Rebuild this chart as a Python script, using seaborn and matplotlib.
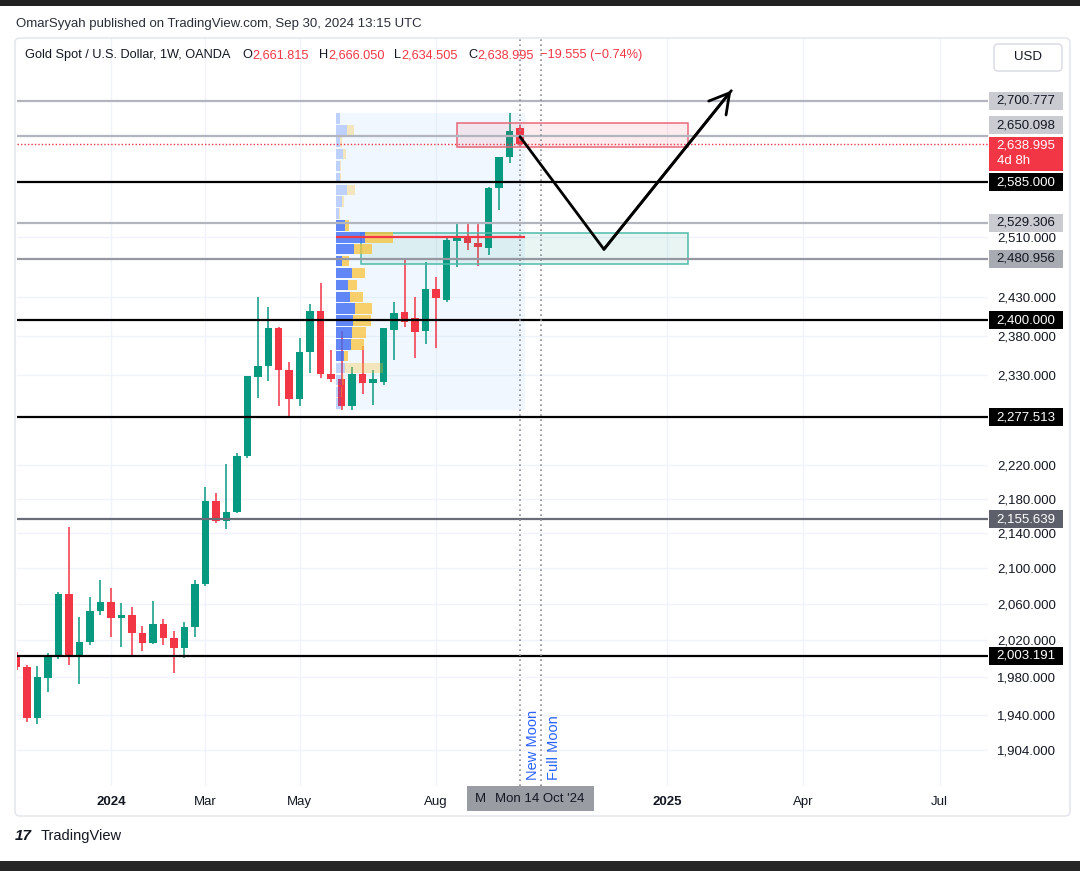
import numpy as np
import pandas as pd
import matplotlib
matplotlib.use("Agg")
import matplotlib.pyplot as plt
import matplotlib.dates as mdates
import matplotlib.transforms as mtrans
from matplotlib.patches import Rectangle, FancyBboxPatch
from matplotlib.ticker import NullLocator
import seaborn as sns

# ---------------- data ----------------
first_week = "2023-10-30"
opens = [2004, 1991, 1937, 1979, 2002, 2071, 2002, 2018, 2052, 2062,
         2044, 2048, 2028, 2017, 2038, 2022, 2011, 2034, 2082, 2177,
         2154, 2164, 2231, 2328, 2341, 2390, 2336, 2300, 2359, 2412,
         2331, 2325, 2292, 2331, 2320, 2321, 2387, 2411, 2403, 2386,
         2441, 2426, 2505, 2510, 2502, 2495, 2577, 2620, 2661.815]
highs = [2007, 1993, 1992, 2006, 2073, 2147, 2045, 2068, 2086, 2077,
         2061, 2056, 2035, 2063, 2043, 2030, 2040, 2086, 2194, 2187,
         2221, 2234, 2329, 2430, 2417, 2391, 2346, 2377, 2421, 2449,
         2362, 2386, 2340, 2367, 2336, 2390, 2424, 2482, 2430, 2476,
         2456, 2510, 2529, 2528, 2527, 2579, 2621, 2684, 2666.050]
lows = [1988, 1933, 1931, 1964, 1999, 1993, 1973, 2015, 2047, 2023,
        2012, 2002, 2008, 2016, 2015, 1984, 2001, 2023, 2080, 2151,
        2145, 2163, 2228, 2301, 2323, 2291, 2278, 2291, 2333, 2326,
        2321, 2287, 2287, 2306, 2293, 2318, 2349, 2391, 2352, 2369,
        2364, 2424, 2470, 2492, 2471, 2486, 2547, 2612, 2634.505]
closes = [1991, 1937, 1980, 2002, 2071, 2002, 2018, 2052, 2062, 2044,
          2048, 2028, 2017, 2038, 2022, 2011, 2034, 2082, 2177, 2154,
          2164, 2231, 2329, 2342, 2390, 2336, 2300, 2359, 2412, 2331,
          2325, 2292, 2331, 2320, 2325, 2390, 2409, 2398, 2385, 2441,
          2429, 2506, 2509, 2502, 2496, 2577, 2620, 2657, 2638.995]

level_prices = [2700.777, 2650.098, 2585.000, 2529.306, 2480.956,
                2400.000, 2277.513, 2155.639, 2003.191]
last_close = 2638.995
countdown = "4d 8h"

ytick_values = [1904, 1940, 1980, 2020, 2060, 2100, 2140, 2180, 2220,
                2330, 2380, 2430, 2510]
xtick_dates = ["2024-01-01", "2024-03-04", "2024-05-06", "2024-08-05",
               "2025-01-06", "2025-04-07", "2025-07-07"]
xtick_labels = ["2024", "Mar", "May", "Aug", "2025", "Apr", "Jul"]

# fixed range volume profile, rows listed from top to bottom
profile_first_bar = 31
profile_up = [3, 10, 3, 6, 3, 3, 10, 5, 2, 8, 27, 17, 5, 15, 11, 13, 18,
              16, 15, 14, 7, 8, 5, 4, 4]
profile_down = [0, 7, 2, 3, 1, 1, 8, 2, 1, 4, 27, 17, 7, 12, 9, 12, 16,
                17, 13, 12, 4, 36, 2, 1, 0]
profile_in_va = [0, 0, 0, 0, 0, 0, 0, 0, 0, 1, 1, 1, 1, 1, 1, 1, 1,
                 1, 1, 1, 1, 0, 0, 0, 0]

red_zone = ["2024-08-19", "2025-01-20", 2634.6, 2669.0]
teal_zone = ["2024-06-16", "2025-01-20", 2473.7, 2515.4]
path_dates = ["2024-09-30", "2024-11-25", "2025-02-18"]
path_prices = [2649.3, 2493.4, 2715.8]
moon_dates = ["2024-09-30", "2024-10-14"]
moon_labels = ["New Moon", "Full Moon"]
crosshair_label = "Mon 14 Oct '24"

title_text = "OmarSyyah published on TradingView.com, Sep 30, 2024 13:15 UTC"
symbol_text = "Gold Spot / U.S. Dollar, 1W, OANDA"
ohlc_letters = ["O", "H", "L", "C"]
ohlc_values = ["2,661.815", "2,666.050", "2,634.505", "2,638.995"]
change_text = "\u221219.555 (\u22120.74%)"

# ---------------- styles ----------------
GREEN, RED = "#089981", "#f23645"
TXT = "#131722"
level_line_colors = ["#b2b5be", "#b2b5be", "#000000", "#b2b5be", "#9598a1",
                     "#000000", "#000000", "#6a6d78", "#000000"]
level_box_colors = ["#c9cbd1", "#c9cbd1", "#000000", "#c9cbd1", "#a8abb2",
                    "#000000", "#000000", "#5d606b", "#000000"]
level_text_colors = [TXT, TXT, "white", TXT, TXT, "white", "white", "white", "white"]
level_label_shift = [0, 11, 0, 0, 0, 0, 0, 0, 0]

sns.set_theme(style="white")
plt.rcParams["font.family"] = ["Liberation Sans", "DejaVu Sans"]

W, H = 1080, 871
fig = plt.figure(figsize=(W / 100, H / 100), dpi=100)
fig.patch.set_facecolor("white")
PL, PR, PT, PB = 17, 988, 38, 786
ax = fig.add_axes([PL / W, 1 - PB / H, (PR - PL) / W, (PB - PT) / H])
ax.set_facecolor("white")
ax.set_yscale("log")
ax.set_ylim(1867.3, 2794.0)

dates = pd.date_range(first_week, periods=len(opens), freq="7D")
xs = mdates.date2num(dates.to_pydatetime())
d0 = xs[0]
ax.set_xlim(d0 + 0.33, d0 + 648.3)

def dnum(s):
    return mdates.date2num(pd.Timestamp(s).to_pydatetime())

# ---------------- candles ----------------
o, h, l, c = map(np.asarray, (opens, highs, lows, closes))
col = np.where(c >= o, GREEN, RED)
ax.vlines(xs, l, h, colors=col, lw=1.1, zorder=2)
bot = np.minimum(o, c)
hgt = np.maximum(np.abs(c - o), 1.2)
ax.bar(xs, hgt, bottom=bot, width=5.0, color=col, linewidth=0, zorder=2.1)

# ---------------- volume profile ----------------
r_left = xs[profile_first_bar] - 3.5
r_right = xs[-1] + 3.5
p_lo = min(lows[profile_first_bar:])
p_hi = max(highs[profile_first_bar:])
ax.add_patch(Rectangle((r_left, p_lo), r_right - r_left, p_hi - p_lo,
                       fc="#bbdefb", alpha=0.22, ec="none", zorder=1))
edges = np.geomspace(p_lo, p_hi, len(profile_up) + 1)
up_v = np.asarray(profile_up[::-1], float)
dn_v = np.asarray(profile_down[::-1], float)
va = np.asarray(profile_in_va[::-1])
scale = 0.30 * (r_right - r_left) / (up_v + dn_v).max()
for j in range(len(up_v)):
    y0, y1 = edges[j], edges[j + 1]
    b = y0 + (y1 - y0) * 0.06
    hh = (y1 - y0) * 0.88
    if va[j]:
        ax.barh(b, up_v[j] * scale, height=hh, left=r_left, align="edge",
                color="#3d6bf5", alpha=0.8, linewidth=0, zorder=3.5)
        ax.barh(b, dn_v[j] * scale, height=hh, left=r_left + up_v[j] * scale,
                align="edge", color="#fbc02d", alpha=0.7, linewidth=0, zorder=3.5)
    else:
        ax.barh(b, up_v[j] * scale, height=hh, left=r_left, align="edge",
                color="#2962ff", alpha=0.25, linewidth=0, zorder=3.5)
        ax.barh(b, dn_v[j] * scale, height=hh, left=r_left + up_v[j] * scale,
                align="edge", color="#fbc02d", alpha=0.3, linewidth=0, zorder=3.5)
poc = int(np.argmax(up_v + dn_v))
poc_y = np.sqrt(edges[poc] * edges[poc + 1])
ax.hlines(poc_y, r_left, r_right, color=RED, lw=1.6, zorder=3.6)

# ---------------- zones ----------------
for z, fc, ec in [(red_zone, "#f23645", "#e9677a"), (teal_zone, "#089981", "#4dbbaa")]:
    x0, x1 = dnum(z[0]), dnum(z[1])
    ax.add_patch(Rectangle((x0, z[2]), x1 - x0, z[3] - z[2], fc=fc, alpha=0.09,
                           ec="none", zorder=3))
    ax.add_patch(Rectangle((x0, z[2]), x1 - x0, z[3] - z[2], fc="none",
                           ec=ec, lw=1.1, zorder=3.05))

# ---------------- horizontal levels ----------------
for p, lc in zip(level_prices, level_line_colors):
    ax.axhline(p, color=lc, lw=1.6, zorder=4)
ax.axhline(last_close, color=RED, lw=1.0, ls=(0, (1, 1.5)), zorder=4)

# ---------------- moon lines ----------------
blend = mtrans.blended_transform_factory(ax.transData, ax.transAxes)
for md, lab in zip(moon_dates, moon_labels):
    ax.axvline(dnum(md), color="#8a8e99", lw=1.2, ls=(0, (1, 2)), zorder=4)
    ax.annotate(lab, xy=(dnum(md), 0.008), xycoords=blend, xytext=(9.5, 0),
                textcoords="offset points", rotation=90, ha="center",
                va="bottom", color="#2962ff", fontsize=10.5, zorder=6)

# ---------------- projection path ----------------
path_df = pd.DataFrame({"x": [dnum(s) for s in path_dates], "y": path_prices})
sns.lineplot(data=path_df, x="x", y="y", ax=ax, color="black", lw=2.0,
             sort=False, estimator=None, zorder=5)
ax.annotate("", xy=(path_df.x.iloc[-1], path_df.y.iloc[-1]),
            xytext=(path_df.x.iloc[-2], path_df.y.iloc[-2]),
            arrowprops=dict(arrowstyle="->,head_length=0.7,head_width=0.4",
                            color="black", lw=2.0, mutation_scale=20,
                            shrinkA=0, shrinkB=0), zorder=5)
ax.set_xlabel("")
ax.set_ylabel("")

# ---------------- axes / ticks ----------------
ax.yaxis.tick_right()
ax.set_yticks(ytick_values)
ax.set_yticklabels([f"{v:,.3f}" for v in ytick_values])
ax.yaxis.set_minor_locator(NullLocator())
ax.set_xticks([dnum(s) for s in xtick_dates])
ax.set_xticklabels(xtick_labels)
ax.xaxis.set_minor_locator(NullLocator())
for t in ax.get_xticklabels():
    if t.get_text().isdigit():
        t.set_fontweight("bold")
ax.tick_params(axis="y", length=0, pad=6.5, labelsize=9.5, labelcolor=TXT)
ax.tick_params(axis="x", length=0, pad=7, labelsize=9.5, labelcolor=TXT)
ax.grid(True, color="#f0f3fa", lw=1)
ax.set_axisbelow(True)
for s in ax.spines.values():
    s.set_visible(False)

# ---------------- price-scale labels (pixel coordinates) ----------------
ID = mtrans.IdentityTransform()
renderer = fig.canvas.get_renderer()

def img_y(price):
    return ax.transData.transform((d0, price))[1]

def pbox(x0, yc, w, hgt_, fc, z=10):
    fig.add_artist(Rectangle((x0, yc - hgt_ / 2), w, hgt_, transform=ID,
                             fc=fc, ec="none", zorder=z))

for p, bc, tc, sh in zip(level_prices, level_box_colors, level_text_colors,
                         level_label_shift):
    yc = img_y(p) + sh
    pbox(989, yc, 74, 18, bc)
    fig.text(1026, yc, f"{p:,.3f}", transform=ID, ha="center", va="center",
             color=tc, fontsize=9.5, zorder=11)

yc = img_y(last_close)
fig.add_artist(Rectangle((989, H - 171), 74, 34, transform=ID, fc=RED,
                         ec="none", zorder=10))
fig.text(1026, yc - 1.5, f"{last_close:,.3f}", transform=ID, ha="center",
         va="center", color="white", fontsize=9.5, zorder=11)
fig.text(997, yc - 17, countdown, transform=ID, ha="left", va="center",
         color="white", fontsize=9.5, zorder=11)

# crosshair time label
fig.add_artist(Rectangle((467, H - 811), 127, 25, transform=ID,
                         fc="#9a9ca4", ec="none", zorder=10))
fig.text(475, H - 799, "M", transform=ID, ha="left", va="center",
         color=TXT, fontsize=9.5, zorder=11)
fig.text(540, H - 799, crosshair_label, transform=ID, ha="center",
         va="center", color=TXT, fontsize=9.5, zorder=11)

# ---------------- header & frame ----------------
fig.text(15.5, H - 24, title_text, transform=ID, ha="left", va="center",
         color="#2a2e39", fontsize=9.5)
fig.text(25, H - 55, symbol_text, transform=ID, ha="left", va="center",
         color=TXT, fontsize=9.2, zorder=11)
for lx, let, val in zip([242, 319, 394, 468], ohlc_letters, ohlc_values):
    t = fig.text(lx, H - 55, let, transform=ID, ha="left", va="center",
                 color=TXT, fontsize=9.2, zorder=11)
    wl = t.get_window_extent(renderer).width
    fig.text(lx + wl + 0.5, H - 55, val, transform=ID, ha="left", va="center",
             color=RED, fontsize=9.2, zorder=11)
fig.text(540, H - 55, change_text, transform=ID, ha="left", va="center",
         color=RED, fontsize=9.2, zorder=11)

fig.add_artist(FancyBboxPatch((994, H - 71), 68, 27, transform=ID,
                              boxstyle="round,pad=0,rounding_size=4",
                              fc="white", ec="#d6d9e0", lw=1, zorder=10))
fig.text(1028, H - 57, "USD", transform=ID, ha="center", va="center",
         color=TXT, fontsize=9.5, zorder=11)

fig.add_artist(FancyBboxPatch((15, H - 816), 1055, 778, transform=ID,
                              boxstyle="round,pad=0,rounding_size=5",
                              fc="none", ec="#e0e3eb", lw=1, zorder=9))

fig.text(15, H - 836, "17", transform=ID, ha="left", va="center",
         color=TXT, fontsize=11, fontweight="heavy", style="italic")
fig.text(41, H - 836, "TradingView", transform=ID, ha="left", va="center",
         color=TXT, fontsize=10.5)

fig.add_artist(Rectangle((0, H - 6), W, 6, transform=ID, fc="#222222",
                         ec="none", zorder=12))
fig.add_artist(Rectangle((0, 0), W, 10.5, transform=ID, fc="#262626",
                         ec="none", zorder=12))

fig.savefig("out.png", dpi=100, facecolor="white")
